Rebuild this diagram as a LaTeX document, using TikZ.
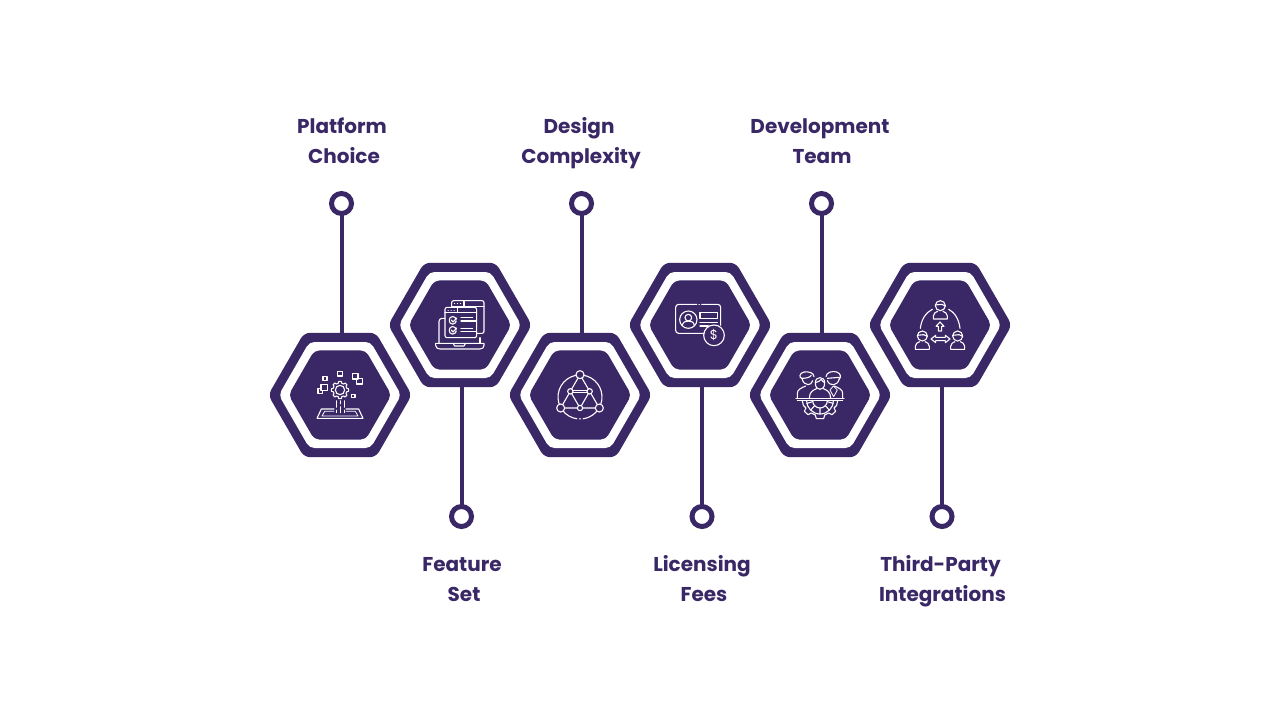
\documentclass[tikz,border=0pt]{standalone}
\usepackage{fontspec}
\setmainfont{Poppins}
\usetikzlibrary{shapes.geometric}
\definecolor{pur}{HTML}{392766}
\tikzset{
  hexo/.style={regular polygon,regular polygon sides=6,inner sep=0pt,outer sep=0pt,fill=pur,minimum size=143.6pt,rounded corners=6pt},
  hexm/.style={regular polygon,regular polygon sides=6,inner sep=0pt,outer sep=0pt,fill=white,minimum size=122.4pt,rounded corners=5pt},
  hexi/.style={regular polygon,regular polygon sides=6,inner sep=0pt,outer sep=0pt,fill=pur,minimum size=102.8pt,rounded corners=5pt},
  ringn/.style={circle,draw=pur,fill=white,line width=5pt,minimum size=20pt,inner sep=0pt,outer sep=0pt},
  link/.style={draw=pur,line width=4pt},
  lab/.style={text=pur,font=\fontsize{20}{30}\selectfont\bfseries,align=center,inner sep=0pt,anchor=base},
  ic/.style={draw=white,line width=1.1pt,line cap=round,line join=round},
  icthin/.style={draw=white,line width=.8pt,line cap=round,line join=round},
}
\newcommand{\hexa}[3]{%
  \node[hexo] (#1) at (#2,#3) {};
  \node[hexm] (#1m) at (#2,#3) {};
  \node[hexi] (#1i) at (#2,#3) {};
}
\newcommand{\tr}{\hspace*{4pt}}
\newcommand{\worker}[2]{%
  \begin{scope}[shift={(#1,#2)}]
    \draw[ic] (0,-10) circle[radius=15];
    \draw[ic] (-15,-12) -- (4,-14) -- (15,-9);
    \draw[ic] (-8,7) .. controls (-14,10) and (-21,12) .. (-21,21) -- (-21,30) -- (21,30) -- (21,21) .. controls (21,12) and (14,10) .. (8,7);
  \end{scope}}
\begin{document}
\begin{tikzpicture}[x=1pt,y=-1pt]
\useasboundingbox (0,0) rectangle (1280,720);
\fill[white] (0,0) rectangle (1280,720);

\node[ringn] (r1) at (341.5,203.5) {};
\node[ringn] (r2) at (461.5,516.5) {};
\node[ringn] (r3) at (581.5,203.5) {};
\node[ringn] (r4) at (702,516.5) {};
\node[ringn] (r5) at (821.5,203.5) {};
\node[ringn] (r6) at (942,516.5) {};

\hexa{h1}{340}{395}
\hexa{h2}{460}{325}
\hexa{h3}{580}{395}
\hexa{h4}{700}{325}
\hexa{h5}{820}{395}
\hexa{h6}{940}{325}

\draw[link] (r1.south) -- (r1.south |- h1.north);
\draw[link] (r2.north) -- (r2.north |- h2.south);
\draw[link] (r3.south) -- (r3.south |- h3.north);
\draw[link] (r4.north) -- (r4.north |- h4.south);
\draw[link] (r5.south) -- (r5.south |- h5.north);
\draw[link] (r6.north) -- (r6.north |- h6.south);

\node[lab] (t1) at (344,163) {Platform\tr\\Choice};
\node[lab] (t2) at (464,601) {Feature\tr\\Set};
\node[lab] (t3) at (581,163) {Design\tr\\Complexity};
\node[lab] (t4) at (704,601) {Licensing\tr\\Fees};
\node[lab] (t5) at (822,163) {Development\tr\\Team};
\node[lab] (t6) at (942.5,601) {Third-Party\tr\\Integrations};

% ---- icons 1 and 2, drawn in 3x units from (260,250)
\begin{scope}[shift={(260,250)},x=0.33333pt,y=-0.33333pt]
  % icon 1
  \draw[ic] (189,379) rectangle (201,391);
  \draw[ic] (233,364) rectangle (247,378);
  \draw[ic] (278,371) rectangle (294,387);
  \draw[ic] (289,385) rectangle (307,402);
  \draw[ic] (183,403) rectangle (203,422);
  \draw[ic] (183,416) -- (174,416) -- (174,430) -- (188,430) -- (188,422);
  \draw[ic] (275,433) rectangle (285,443);
  \begin{scope}[shift={(240,420)}]
    \draw[ic] (-14:21) \foreach \a in {0,45,...,315}{ -- (\a-14:21) -- (\a-8:26) -- (\a+8:26) -- (\a+14:21)} -- cycle;
    \draw[ic] (0,0) circle[radius=14];
  \end{scope}
  \draw[ic] (222,477) -- (184,477) -- (171,505) -- (309,505) -- (296,477) -- (258,477);
  \draw[icthin] (222,484) -- (194,484) -- (186,498) -- (294,498) -- (286,484) -- (258,484);
  \draw[icthin] (228,452) -- (228,472) (228,480) -- (228,488);
  \draw[icthin] (240,452) -- (240,462) (240,470) -- (240,488);
  \draw[icthin] (252,452) -- (252,472) (252,480) -- (252,488);
  % icon 2
  \draw[ic] (575,172) -- (575,156) [rounded corners=2pt] -- (575,152) -- (672,152) -- (672,250) -- (650,250);
  \draw[ic] (575,170) -- (672,170) (612,152) -- (612,170);
  \draw[icthin] (583,161) -- (584,161) (592,161) -- (593,161) (601,161) -- (602,161);
  \draw[ic,rounded corners=2pt] (555,172) rectangle (650,263);
  \draw[ic] (555,188) -- (650,188) (592,172) -- (592,188);
  \draw[icthin] (564,180) -- (565,180) (573,180) -- (574,180) (582,180) -- (583,180);
  \draw[ic,rounded corners=3pt] (588,205) -- (588,200) -- (568,200) -- (568,222) -- (588,222) -- (588,216);
  \draw[ic] (574,210) -- (579,216) -- (590,204);
  \draw[ic,rounded corners=3pt] (588,235) -- (588,230) -- (568,230) -- (568,252) -- (588,252) -- (588,246);
  \draw[ic] (574,240) -- (579,246) -- (590,234);
  \draw[ic] (603,203) -- (638,203) (603,213) -- (650,213) (603,235) -- (638,235) (603,245) -- (650,245);
  \draw[ic,rounded corners=3pt] (537,280) -- (537,205) -- (555,205);
  \draw[ic] (660,263) -- (660,280);
  \draw[ic] (527,280) -- (672,280) -- (672,286) .. controls (672,293) and (667,297) .. (660,297) -- (540,297) .. controls (533,297) and (527,293) .. (527,286) -- cycle;
  \draw[ic] (580,281) -- (584,288) -- (612,288) -- (616,281);
\end{scope}

% ---- icons 3 and 4, drawn in 3x units from (500,250)
\begin{scope}[shift={(500,250)},x=0.33333pt,y=-0.33333pt]
  % icon 3
  \coordinate (a0) at (240,374);
  \coordinate (a1) at (182,474);
  \coordinate (a2) at (298,474);
  \coordinate (b0) at (211,424);
  \coordinate (b1) at (269,424);
  \coordinate (b2) at (240,474);
  \draw[ic] (a0) -- (a1) -- (a2) -- cycle;
  \draw[ic] (b0) -- (b2) -- (b1);
  \draw[icthin] (b0) ++(0,-3) -- ++(58,0) (b0) ++(0,3) -- ++(58,0);
  \begin{scope}[shift={(240,441)}]
    \draw[ic] (98:66) arc[start angle=98,end angle=442,radius=66];
    \draw[ic] (90:66) -- (90:65);
  \end{scope}
  \foreach \n/\r in {a0/12,a1/12,a2/12,b0/8,b1/8,b2/8}{
    \draw[ic,fill=pur] (\n) circle[radius=\r];
  }
  % icon 4
  \draw[ic,rounded corners=3pt] (590,163) -- (527,163) -- (527,250) -- (612,250);
  \draw[ic,rounded corners=3pt] (605,163) -- (662,163) -- (662,226);
  \draw[ic] (597,163) -- (598,163);
  \draw[ic] (565,209) circle[radius=26];
  \draw[ic] (565,203) circle[radius=10];
  \draw[ic] (547,226) .. controls (549,216) and (556,213) .. (565,213) .. controls (574,213) and (581,216) .. (583,226);
  \draw[ic] (600,187) rectangle (652,205);
  \draw[ic] (600,217) -- (652,217) (600,228) -- (625,228);
  \draw[ic] (642,256) circle[radius=31];
  \node[text=white,inner sep=0pt,font=\fontsize{13}{13}\selectfont] (dollar) at (642,256) {\$};
\end{scope}

% ---- icons 5 and 6, drawn in 3x units from (740,250)
\begin{scope}[shift={(740,250)},x=0.33333pt,y=-0.33333pt]
  % icon 5: gear under table
  \draw[ic] (168,445) -- (312,445);
  \draw[icthin] (172,451) -- (308,451);
  \draw[ic] (187,452) -- (190,466) -- (198,474) -- (193,484) -- (204,494) -- (214,489) -- (226,495) -- (229,506) -- (251,506) -- (254,495) -- (266,489) -- (276,494) -- (287,484) -- (282,474) -- (290,466) -- (293,452);
  \draw[ic] (200,452) arc[start angle=180,end angle=0,radius=40];
  \draw[ic] (218,452) arc[start angle=180,end angle=0,radius=22];
  \draw[ic] (240,474) -- (240,492) (224,467) -- (212,480) (256,467) -- (268,480) (218,455) -- (201,460) (262,455) -- (279,460);
  % people
  \draw[ic] (172,445) -- (172,430) .. controls (172,418) and (184,414) .. (197,408);
  \draw[ic] (308,445) -- (308,430) .. controls (308,418) and (296,414) .. (283,408);
  \draw[ic] (208,445) .. controls (208,425) and (220,420) .. (230,416);
  \draw[ic] (272,445) .. controls (272,425) and (260,420) .. (250,416);
  \draw[ic] (226,398) .. controls (226,378) and (254,378) .. (254,398) .. controls (254,412) and (248,418) .. (240,418) .. controls (232,418) and (226,412) .. (226,398) -- cycle;
  \draw[ic] (226,398) .. controls (234,397) and (240,392) .. (244,388) .. controls (246,393) and (250,396) .. (254,398);
  \draw[ic] (186,385) .. controls (176,385) and (178,368) .. (192,366) .. controls (205,364) and (222,368) .. (222,380) ;
  \draw[ic] (186,385) .. controls (188,396) and (195,404) .. (204,404) .. controls (210,404) and (216,400) .. (218,392);
  \draw[ic] (186,385) .. controls (200,385) and (210,382) .. (214,376);
  \draw[ic] (258,380) .. controls (258,366) and (280,362) .. (290,366) .. controls (302,370) and (304,380) .. (298,388);
  \draw[ic] (262,392) .. controls (266,402) and (274,405) .. (282,404) .. controls (290,403) and (296,396) .. (298,385);
  \draw[ic] (262,385) -- (298,382);
  \draw[icthin] (280,408) -- (270,420) -- (281,440) -- (292,420) -- cycle;
  % icon 6
  \worker{601}{177}
  \worker{547}{268}
  \worker{653}{268}
  \draw[ic] (577,178) .. controls (558,187) and (544,208) .. (541,235);
  \draw[ic] (626,178) .. controls (644,187) and (657,208) .. (660,235);
  \draw[ic] (595,243) -- (595,229) -- (588,229) -- (600,216) -- (612,229) -- (605,229) -- (605,243) -- cycle;
  \draw[ic] (573,267) -- (587,256) -- (587,262) -- (616,262) -- (616,256) -- (630,267) -- (616,278) -- (616,272) -- (587,272) -- (587,278) -- cycle;
\end{scope}
\end{tikzpicture}
\end{document}
